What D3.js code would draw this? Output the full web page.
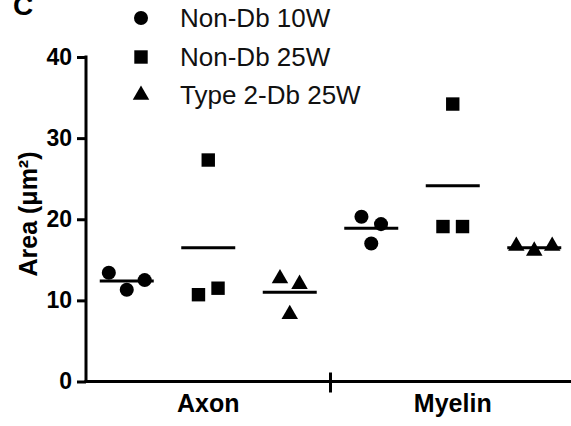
<!DOCTYPE html>
<html>
<head>
<meta charset="utf-8">
<script src="https://cdn.jsdelivr.net/npm/d3@7"></script>
<style>
  html, body { margin: 0; padding: 0; background: #fff; }
  svg { display: block; font-family: "Liberation Sans", Arial, sans-serif; }
</style>
</head>
<body>
<svg id="chart" width="571" height="426"></svg>
<script>
// ---- data ----
const categories = ["Axon", "Myelin"];
const seriesNames = ["Non-Db 10W", "Non-Db 25W", "Type 2-Db 25W"];
const axonNonDb10W = [13.4, 11.3, 12.5];
const axonNonDb25W = [10.7, 27.3, 11.5];
const axonType2Db25W = [12.7, 8.3, 12.0];
const myelinNonDb10W = [20.3, 17.0, 19.4];
const myelinNonDb25W = [19.1, 34.2, 19.1];
const myelinType2Db25W = [16.7, 16.1, 16.7];
const yTicks = [0, 10, 20, 30, 40];

// ---- layout (not data) ----
const W = 571, H = 426;
const yAxisX = 86, yTop = 57, yBottom = 381.5;
const jitter = [[-0.22, 0, 0.22], [-0.12, 0, 0.12], [-0.12, 0, 0.12],
                [-0.12, 0, 0.12], [-0.12, 0, 0.12], [-0.22, 0, 0.22]];
const shapes = [d3.symbolCircle, d3.symbolSquare, d3.symbolTriangle];
const shapeSizes = [155, 180, 118];

const values = {
  "Axon": [axonNonDb10W, axonNonDb25W, axonType2Db25W],
  "Myelin": [myelinNonDb10W, myelinNonDb25W, myelinType2Db25W]
};

const svg = d3.select("#chart");

const y = d3.scaleLinear().domain([0, 40]).range([yBottom, yTop]);
const x = d3.scaleBand().domain(categories).range([yAxisX, 575]).padding(0);
const xs = d3.scaleBand().domain(seriesNames).range([0, x.bandwidth()]).padding(0);

// ---- points and means ----
categories.forEach((cat, ci) => {
  values[cat].forEach((vals, si) => {
    const name = seriesNames[si];
    const cx = x(cat) + xs(name) + xs.bandwidth() / 2;
    const jit = jitter[ci * 3 + si];
    const g = svg.append("g");
    g.selectAll("path.pt").data(vals).join("path")
      .attr("class", "pt")
      .attr("d", d3.symbol().type(shapes[si]).size(shapeSizes[si]))
      .attr("transform", (d, i) => `translate(${cx + jit[i] * xs.bandwidth()},${y(d)})`)
      .attr("fill", "#000");
    const m = d3.mean(vals);
    g.append("line")
      .attr("x1", cx - 27).attr("x2", cx + 27)
      .attr("y1", y(m)).attr("y2", y(m))
      .attr("stroke", "#000").attr("stroke-width", 3);
  });
});

// ---- y axis ----
const yAxis = d3.axisLeft(y).tickValues(yTicks).tickSize(9).tickSizeOuter(0).tickPadding(5);
const gy = svg.append("g").attr("transform", `translate(${yAxisX},0)`).call(yAxis);
gy.select(".domain").attr("stroke-width", 3).attr("d", `M0,${yTop - 1.5}V${yBottom}`);
gy.selectAll(".tick line").attr("stroke-width", 3);
gy.selectAll(".tick text").attr("font-size", 23).attr("font-weight", "bold")
  .attr("font-family", "Liberation Sans, Arial, sans-serif").attr("fill", "#000");

// ---- x axis ----
const xAxis = d3.axisBottom(x).tickSize(0).tickPadding(13);
const gx = svg.append("g").attr("transform", `translate(0,${yBottom})`).call(xAxis);
gx.select(".domain").remove();
gx.selectAll(".tick text").attr("font-size", 25).attr("font-weight", "bold")
  .attr("font-family", "Liberation Sans, Arial, sans-serif").attr("fill", "#000")
  .attr("dy", "0.71em");
svg.append("line")
  .attr("x1", yAxisX - 1.5).attr("x2", W)
  .attr("y1", yBottom).attr("y2", yBottom)
  .attr("stroke", "#000").attr("stroke-width", 3);
svg.append("line")
  .attr("x1", x("Myelin")).attr("x2", x("Myelin"))
  .attr("y1", yBottom - 9).attr("y2", yBottom + 11)
  .attr("stroke", "#000").attr("stroke-width", 3);

// ---- y label ----
svg.append("text")
  .attr("transform", `translate(37,214) rotate(-90)`)
  .attr("text-anchor", "middle")
  .attr("font-size", 25).attr("font-weight", "bold")
  .text("Area (μm²)");

// ---- panel letter ----
svg.append("text").attr("x", 13).attr("y", 15)
  .attr("font-size", 28).attr("font-weight", "bold").text("C");

// ---- legend ----
const legendY = [18, 57, 95];
const leg = svg.append("g");
seriesNames.forEach((name, i) => {
  leg.append("path")
    .attr("d", d3.symbol().type(shapes[i]).size(shapeSizes[i]))
    .attr("transform", `translate(141,${legendY[i]})`)
    .attr("fill", "#000");
  leg.append("text").attr("x", 180).attr("y", legendY[i] + 9)
    .attr("font-size", 26).attr("fill", "#111").text(name);
});
</script>
</body>
</html>
